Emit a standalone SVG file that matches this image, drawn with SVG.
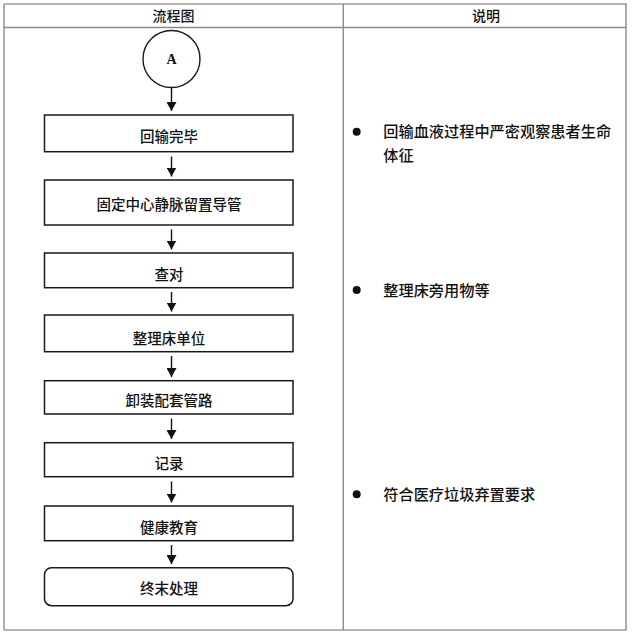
<svg xmlns="http://www.w3.org/2000/svg" width="641" height="639" viewBox="0 0 641 639">
<defs>
<marker id="ah" markerUnits="userSpaceOnUse" markerWidth="9" markerHeight="10" viewBox="0 0 9 10" refX="9" refY="5" orient="auto">
<path d="M0,0 L9,5 L0,10 z" fill="#111"/>
</marker>
<style>
.tbl{stroke:#8c8c8c;stroke-width:1.4;fill:none}
.tblo{stroke:#b4b4b4;stroke-width:2.2;fill:none}
.box{fill:#fff;stroke:#1a1a1a;stroke-width:1.5}
.lbl{font-family:"Noto Sans CJK SC","Noto Sans",sans-serif;font-size:14.5px;font-weight:500;fill:#111;text-anchor:middle}
.hdr{font-family:"Noto Sans CJK SC","Noto Sans",sans-serif;font-size:14px;font-weight:500;fill:#111;text-anchor:middle}
.note{font-family:"Noto Sans CJK SC","Noto Sans",sans-serif;font-size:15.2px;font-weight:500;fill:#111}
.conn{stroke:#111;stroke-width:1.4;fill:none;marker-end:url(#ah)}
</style>
</defs>
<rect width="641" height="639" fill="#fff"/>
<g id="table">
<line class="tblo" x1="4" y1="4" x2="626.5" y2="4"/>
<line class="tblo" x1="4" y1="630" x2="626.5" y2="630"/>
<line class="tbl" x1="4" y1="4" x2="4" y2="630"/>
<line class="tbl" x1="626" y1="4" x2="626" y2="630"/>
<line class="tbl" x1="343.3" y1="4" x2="343.3" y2="630"/>
<line class="tbl" x1="4" y1="27.5" x2="626" y2="27.5"/>
<text class="hdr" x="173.5" y="21.3">流程图</text>
<text class="hdr" x="486" y="21.3">说明</text>
</g>
<g id="connectors">
<line class="conn" x1="171.5" y1="88" x2="171.5" y2="111"/>
<line class="conn" x1="171.5" y1="156.5" x2="171.5" y2="176.5"/>
<line class="conn" x1="171.5" y1="229.5" x2="171.5" y2="249.5"/>
<line class="conn" x1="171.5" y1="292" x2="171.5" y2="311.5"/>
<line class="conn" x1="171.5" y1="356" x2="171.5" y2="377"/>
<line class="conn" x1="171.5" y1="418.5" x2="171.5" y2="439"/>
<line class="conn" x1="171.5" y1="481.5" x2="171.5" y2="502.5"/>
<line class="conn" x1="171.5" y1="545" x2="171.5" y2="564"/>
</g>
<g id="nodeA">
<circle cx="171.5" cy="59" r="28.5" fill="#fff" stroke="#1a1a1a" stroke-width="1.4"/>
<text x="171.5" y="64" font-family="Liberation Serif,serif" font-weight="bold" font-size="14" text-anchor="middle" fill="#111">A</text>
</g>
<g id="n1">
<rect class="box" x="44.5" y="115" width="248.5" height="36.7"/>
<text class="lbl" x="169" y="141.5">回输完毕</text>
</g>
<g id="n2">
<rect class="box" x="44.5" y="180" width="248.5" height="45"/>
<text class="lbl" x="169" y="209.5">固定中心静脉留置导管</text>
</g>
<g id="n3">
<rect class="box" x="44.5" y="253" width="248.5" height="34.7"/>
<text class="lbl" x="169" y="279.5">查对</text>
</g>
<g id="n4">
<rect class="box" x="44.5" y="315" width="248.5" height="36.7"/>
<text class="lbl" x="169" y="343.5">整理床单位</text>
</g>
<g id="n5">
<rect class="box" x="44.5" y="380.7" width="248.5" height="33.3"/>
<text class="lbl" x="169" y="405.5">卸装配套管路</text>
</g>
<g id="n6">
<rect class="box" x="44.5" y="442.7" width="248.5" height="34"/>
<text class="lbl" x="169" y="468.5">记录</text>
</g>
<g id="n7">
<rect class="box" x="44.5" y="506" width="248.5" height="34.7"/>
<text class="lbl" x="169" y="532.5">健康教育</text>
</g>
<g id="n8">
<rect class="box" x="44.5" y="567.7" width="248.5" height="38" rx="7" ry="7"/>
<text class="lbl" x="169" y="593.5">终末处理</text>
</g>
<g id="notes">
<circle cx="356.7" cy="131.7" r="4" fill="#111"/>
<text class="note" x="383.3" y="137.4">回输血液过程中严密观察患者生命</text>
<text class="note" x="383.3" y="160.7">体征</text>
<circle cx="356.7" cy="290" r="4" fill="#111"/>
<text class="note" x="383.3" y="295.7">整理床旁用物等</text>
<circle cx="356.7" cy="494.3" r="4" fill="#111"/>
<text class="note" x="383.3" y="500">符合医疗垃圾弃置要求</text>
</g>
</svg>
